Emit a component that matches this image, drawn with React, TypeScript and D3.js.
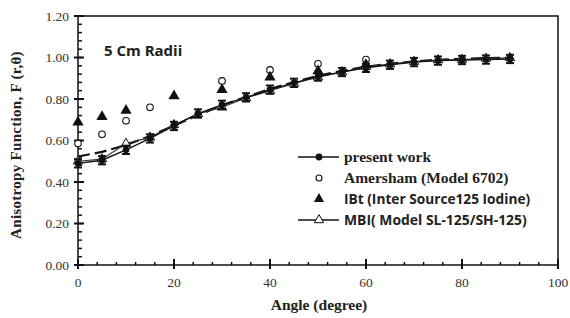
import * as d3 from "d3";
import { useEffect, useRef } from "react";

// angles (degree) and F(r,theta) values
const angles = [0, 5, 10, 15, 20, 25, 30, 35, 40, 45, 50, 55, 60, 65, 70, 75, 80, 85, 90];
const presentWork = [0.49, 0.505, 0.555, 0.61, 0.67, 0.73, 0.772, 0.808, 0.845, 0.878, 0.908, 0.93, 0.95, 0.965, 0.978, 0.985, 0.988, 0.99, 0.993];
const presentErr = 0.02;
const mbi = [0.5, 0.51, 0.585, 0.615, 0.675, 0.728, 0.76, 0.805, 0.84, 0.875, 0.905, 0.93, 0.955, 0.968, 0.98, 0.988, 0.99, 0.995, 0.998];
const fitLine = [0.523, 0.545, 0.578, 0.622, 0.672, 0.722, 0.77, 0.81, 0.848, 0.882, 0.912, 0.936, 0.956, 0.97, 0.981, 0.989, 0.994, 0.997, 0.999];

const amershamAngles = [0, 5, 10, 15, 30, 40, 50, 60];
const amersham = [0.585, 0.63, 0.695, 0.76, 0.887, 0.94, 0.97, 0.99];

const ibtAngles = [0, 5, 10, 20, 30, 40, 50, 60];
const ibt = [0.688, 0.714, 0.745, 0.815, 0.845, 0.905, 0.935, 0.965];

const xTicks = [0, 20, 40, 60, 80, 100];
const yTicks = [0, 0.2, 0.4, 0.6, 0.8, 1.0, 1.2];

const legendItems = [
  { label: "present work", kind: "present", font: "'Liberation Serif', serif", size: 15.5 },
  { label: "Amersham (Model 6702)", kind: "amersham", font: "'Liberation Serif', serif", size: 15.5 },
  { label: "IBt (Inter Source125 Iodine)", kind: "ibt", font: "'Open Sans', sans-serif", size: 13.7 },
  { label: "MBI( Model SL-125/SH-125)", kind: "mbi", font: "'Open Sans', sans-serif", size: 13.9 },
];

const serif = "'Liberation Serif', 'Times New Roman', serif";
const sans = "'Open Sans', 'Liberation Sans', sans-serif";

const App = () => {
  const ref = useRef<SVGSVGElement>(null);

  useEffect(() => {
    const width = 570;
    const height = 318;
    const svg = d3.select(ref.current).attr("width", width).attr("height", height).html("");

    svg.append("rect").attr("width", width).attr("height", height).attr("fill", "#fff");

    const x = d3.scaleLinear().domain([0, 100]).range([78, 558]);
    const y = d3.scaleLinear().domain([0, 1.2]).range([265, 16]);

    // frame
    svg
      .append("rect")
      .attr("x", x(0))
      .attr("y", y(1.2))
      .attr("width", x(100) - x(0))
      .attr("height", y(0) - y(1.2))
      .attr("fill", "none")
      .attr("stroke", "#111")
      .attr("stroke-width", 1.5);

    // minor ticks
    const gT = svg.append("g").attr("stroke", "#111").attr("stroke-width", 1.5);
    d3.range(0, 100.01, 4).forEach((v) => {
      gT.append("line").attr("x1", x(v)).attr("x2", x(v)).attr("y1", y(0)).attr("y2", y(0) - 3);
    });
    d3.range(0, 1.2001, 0.04).forEach((v) => {
      gT.append("line").attr("x1", x(0)).attr("x2", x(0) + 4).attr("y1", y(v)).attr("y2", y(v));
    });
    // major ticks
    xTicks.forEach((v) => {
      gT.append("line").attr("x1", x(v)).attr("x2", x(v)).attr("y1", y(0) + 4).attr("y2", y(0) - 6).attr("stroke-width", 2);
    });
    yTicks.forEach((v) => {
      gT.append("line").attr("x1", x(0) - 4).attr("x2", x(0) + 6).attr("y1", y(v)).attr("y2", y(v)).attr("stroke-width", 2);
    });

    // tick labels
    svg
      .append("g")
      .selectAll("text")
      .data(xTicks)
      .enter()
      .append("text")
      .attr("x", (d) => x(d))
      .attr("y", y(0) + 22)
      .attr("text-anchor", "middle")
      .style("font-family", serif)
      .style("font-size", "13.5px")
      .style("fill", "#333")
      .text((d) => d);
    svg
      .append("g")
      .selectAll("text")
      .data(yTicks)
      .enter()
      .append("text")
      .attr("x", x(0) - 9)
      .attr("y", (d) => y(d) + 4.5)
      .attr("text-anchor", "end")
      .style("font-family", serif)
      .style("font-size", "13.5px")
      .style("fill", "#333")
      .text((d) => d.toFixed(2));

    // axis titles
    svg
      .append("text")
      .attr("x", 319)
      .attr("y", 310)
      .attr("text-anchor", "middle")
      .style("font-family", serif)
      .style("font-weight", "700")
      .style("font-size", "15.5px")
      .style("fill", "#222")
      .text("Angle (degree)");
    svg
      .append("text")
      .attr("transform", `translate(21, 145) rotate(-90)`)
      .attr("text-anchor", "middle")
      .style("font-family", serif)
      .style("font-weight", "700")
      .style("font-size", "15px")
      .style("letter-spacing", "0.3px")
      .style("fill", "#222")
      .text("Anisotropy  Function,  F (r,θ)");

    svg
      .append("text")
      .attr("x", 104)
      .attr("y", 56)
      .style("font-family", sans)
      .style("font-weight", "700")
      .style("font-size", "15px")
      .style("fill", "#222")
      .text("5 Cm Radii");

    const line = d3
      .line<number>()
      .x((_, i) => x(angles[i]))
      .y((d) => y(d));

    // fit (dashed thick)
    svg
      .append("path")
      .attr("d", line(fitLine))
      .attr("fill", "none")
      .attr("stroke", "#111")
      .attr("stroke-width", 2.2)
      .attr("stroke-dasharray", "12,5");

    svg.append("path").attr("d", line(mbi)).attr("fill", "none").attr("stroke", "#333").attr("stroke-width", 1.2);
    svg.append("path").attr("d", line(presentWork)).attr("fill", "none").attr("stroke", "#111").attr("stroke-width", 1.4);

    const tri = d3.symbol().type(d3.symbolTriangle).size(38);

    // MBI open triangles
    svg
      .append("g")
      .selectAll("path")
      .data(mbi)
      .enter()
      .append("path")
      .attr("d", tri)
      .attr("transform", (d, i) => `translate(${x(angles[i])},${y(d)})`)
      .attr("fill", "#fff")
      .attr("stroke", "#111")
      .attr("stroke-width", 1);

    // present work error bars and points
    const pw = svg.append("g").attr("stroke", "#111").attr("stroke-width", 2);
    presentWork.forEach((d, i) => {
      const cx = x(angles[i]);
      pw.append("line").attr("x1", cx).attr("x2", cx).attr("y1", y(d - presentErr)).attr("y2", y(d + presentErr));
      pw.append("line").attr("x1", cx - 4).attr("x2", cx + 4).attr("y1", y(d - presentErr)).attr("y2", y(d - presentErr));
      pw.append("line").attr("x1", cx - 4).attr("x2", cx + 4).attr("y1", y(d + presentErr)).attr("y2", y(d + presentErr));
      pw.append("circle").attr("cx", cx).attr("cy", y(d)).attr("r", 3.4).attr("fill", "#111").attr("stroke", "none");
    });

    // Amersham open circles
    svg
      .append("g")
      .selectAll("circle")
      .data(amersham)
      .enter()
      .append("circle")
      .attr("cx", (_, i) => x(amershamAngles[i]))
      .attr("cy", (d) => y(d))
      .attr("r", 3.3)
      .attr("fill", "#fff")
      .attr("stroke", "#111")
      .attr("stroke-width", 1.1);

    // IBt filled triangles
    svg
      .append("g")
      .selectAll("path")
      .data(ibt)
      .enter()
      .append("path")
      .attr("d", d3.symbol().type(d3.symbolTriangle).size(55))
      .attr("transform", (d, i) => `translate(${x(ibtAngles[i])},${y(d)})`)
      .attr("fill", "#111");

    // legend
    const lg = svg.append("g");
    legendItems.forEach((item, i) => {
      const ly = 157 + i * 21;
      const g = lg.append("g").attr("transform", `translate(0, ${ly})`);
      if (item.kind === "present" || item.kind === "mbi") {
        g.append("line").attr("x1", 298).attr("x2", 339).attr("y1", 0).attr("y2", 0).attr("stroke", "#111").attr("stroke-width", 1.5);
      }
      if (item.kind === "present") {
        g.append("circle").attr("cx", 319).attr("cy", 0).attr("r", 3.4).attr("fill", "#111");
      } else if (item.kind === "amersham") {
        g.append("circle").attr("cx", 319).attr("cy", 0).attr("r", 3).attr("fill", "#fff").attr("stroke", "#111").attr("stroke-width", 1.1);
      } else if (item.kind === "ibt") {
        g.append("path").attr("d", d3.symbol().type(d3.symbolTriangle).size(45)).attr("transform", "translate(319,0)").attr("fill", "#111");
      } else {
        g.append("path").attr("d", tri).attr("transform", "translate(319,0)").attr("fill", "#fff").attr("stroke", "#111").attr("stroke-width", 1);
      }
      g.append("text")
        .attr("x", 344)
        .attr("y", 5)
        .style("font-family", item.font)
        .style("font-weight", "700")
        .style("font-size", `${item.size}px`)
        .style("fill", "#222")
        .text(item.label);
    });
  }, []);

  return (
    <div style={{ position: "absolute", left: 0, top: 0 }}>
      <svg ref={ref} style={{ display: "block" }}></svg>
    </div>
  );
};

export default App;
